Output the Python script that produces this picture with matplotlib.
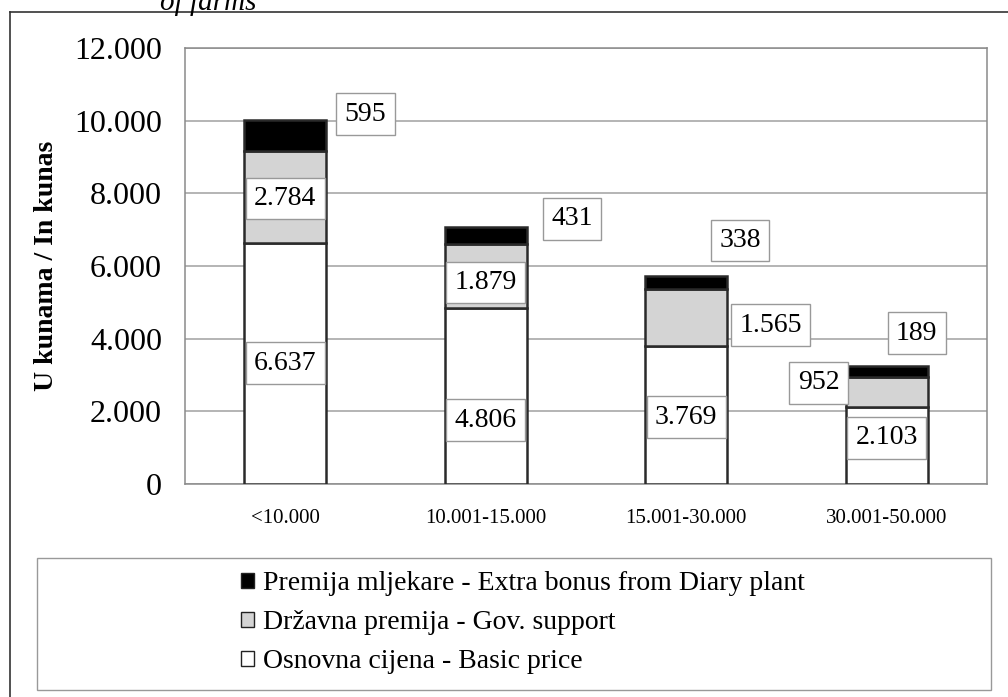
import matplotlib.pyplot as plt
from matplotlib.patches import Rectangle
from matplotlib.lines import Line2D

plt.rcParams['font.family'] = ['Liberation Serif', 'DejaVu Serif']

# data (segment heights as drawn, labels as printed)
categories = ['<10.000', '10.001-15.000', '15.001-30.000', '30.001-50.000']
basic_price = [6630, 4840, 3790, 2118]
gov_support = [2530, 1760, 1570, 825]
dairy_bonus = [870, 470, 360, 302]
basic_labels = ['6.637', '4.806', '3.769', '2.103']
gov_labels = ['2.784', '1.879', '1.565', '952']
bonus_labels = ['595', '431', '338', '189']

fig = plt.figure(figsize=(10.08, 6.97), dpi=100)
ax = fig.add_axes([0.1835, 0.3056, 0.7956, 0.6255])

x = list(range(len(categories)))
w = 0.41
edge = '#2a2a2a'
ax.bar(x, basic_price, w, color='white', edgecolor=edge, linewidth=1.8, zorder=3)
ax.bar(x, gov_support, w, bottom=basic_price, color='#d4d4d4', edgecolor=edge, linewidth=1.8, zorder=3)
bottom2 = [a + b for a, b in zip(basic_price, gov_support)]
ax.bar(x, dairy_bonus, w, bottom=bottom2, color='black', edgecolor=edge, linewidth=1.8, zorder=3)

ax.set_xlim(-0.5, 3.5)
ax.set_ylim(0, 12000)
ax.set_yticks(range(0, 12001, 2000))
ax.set_yticklabels(['0', '2.000', '4.000', '6.000', '8.000', '10.000', '12.000'], fontsize=23)
ax.set_xticks(x)
ax.set_xticklabels(categories, fontsize=15)
ax.tick_params(axis='y', length=0, pad=16.5)
ax.tick_params(axis='x', length=0, pad=18)
ax.yaxis.grid(True, color='#a0a0a0', linewidth=1.1, zorder=0)
for s in ax.spines.values():
    s.set_color('#8a8a8a')
    s.set_linewidth(1.1)
ax.set_ylabel('U kunama / In kunas', fontsize=20, fontweight='bold', labelpad=11)

box = dict(boxstyle='square,pad=0.3', fc='white', ec='#999999', lw=1)
# label positions (x offset, y) per bar
bonus_pos = [(0.40, 10180), (0.43, 7300), (0.27, 6700), (0.15, 4150)]
gov_pos = [(0.0, 7860), (0.0, 5550), (0.42, 4370), (-0.34, 2780)]
basic_pos = [(0.0, 3330), (0.0, 1760), (0.0, 1840), (0.0, 1270)]
for i in x:
    ax.text(i + bonus_pos[i][0], bonus_pos[i][1], bonus_labels[i], fontsize=20,
            ha='center', va='center', bbox=box, zorder=5)
    ax.text(i + gov_pos[i][0], gov_pos[i][1], gov_labels[i], fontsize=20,
            ha='center', va='center', bbox=box, zorder=5)
    ax.text(i + basic_pos[i][0], basic_pos[i][1], basic_labels[i], fontsize=20,
            ha='center', va='center', bbox=box, zorder=5)

# outer frame lines
fig.add_artist(Line2D([0.0099, 0.0099], [0, 0.9828], color='#333333', lw=1.2))
fig.add_artist(Line2D([0.0099, 1.0], [0.9828, 0.9828], color='#333333', lw=1.2))
fig.text(0.207, 0.997, 'of farms', fontsize=21, style='italic', ha='center', va='center')

# legend box
fig.add_artist(Rectangle((0.0367, 0.01), 0.946, 0.19, transform=fig.transFigure,
                         fc='white', ec='#999999', lw=1))
handles = [Rectangle((0, 0), 1, 1, fc='black', ec='#222222'),
           Rectangle((0, 0), 1, 1, fc='#d4d4d4', ec='#222222'),
           Rectangle((0, 0), 1, 1, fc='white', ec='#222222')]
labels = ['Premija mljekare - Extra bonus from Diary plant',
          'Državna premija - Gov. support',
          'Osnovna cijena - Basic price']
fig.legend(handles, labels, loc='upper left', bbox_to_anchor=(0.22, 0.208),
           frameon=False, fontsize=20, handlelength=0.45, handleheight=0.45,
           handletextpad=0.35, labelspacing=0.5, borderpad=0.2)

fig.savefig('out.png', dpi=100)
